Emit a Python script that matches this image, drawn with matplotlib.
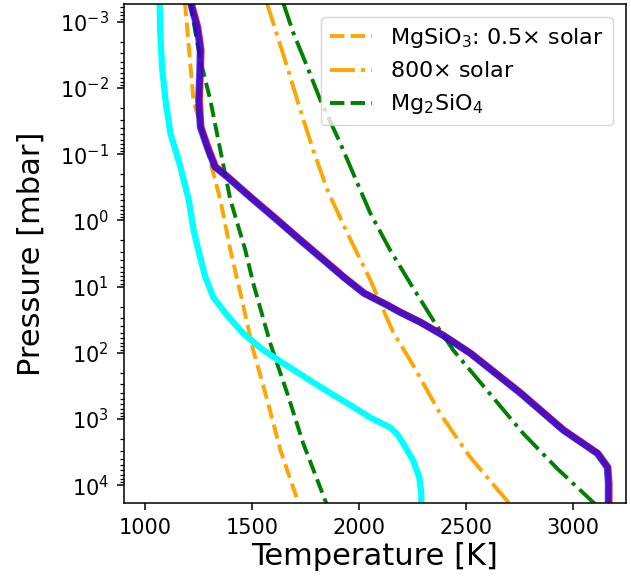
import numpy as np
import matplotlib
matplotlib.use("Agg")
import matplotlib.pyplot as plt
from matplotlib.ticker import NullFormatter, FixedLocator, LogFormatterSciNotation

# Cyan profile (log10 P [mbar], T [K])
cyan_logp = [-3.27, -2.83, -2.32, -1.82, -1.32, -0.81, -0.31, 0.15, 0.45, 0.86, 1.16, 1.42, 1.71, 1.96,
             2.16, 2.42, 2.61, 2.79, 2.98, 3.13, 3.23, 3.37, 3.63, 3.88, 4.13, 4.27]
cyan_t = [1067, 1070, 1078, 1094, 1117, 1164, 1203, 1226, 1248, 1281, 1318, 1379, 1459, 1552,
          1646, 1772, 1866, 1959, 2053, 2146, 2179, 2207, 2254, 2282, 2292, 2292]

# Main (red/blue) profile
prof_logp = [-3.29, -2.92, -2.58, -2.23, -1.82, -1.41, -1.11, -0.81, -0.66, -0.35, -0.05, 0.30, 0.60,
             0.86, 1.10, 1.28, 1.39, 1.54, 1.74, 2.01, 2.61, 3.17, 3.52, 3.73, 3.97, 4.27]
prof_t = [1211, 1242, 1257, 1254, 1249, 1257, 1289, 1325, 1382, 1491, 1600, 1725, 1834,
          1928, 2022, 2131, 2193, 2287, 2394, 2521, 2755, 2956, 3115, 3162, 3167, 3167]

# Condensation curves
mgsio3_low_logp = [-3.30, -1.82, -1.06, -0.31, 0.45, 1.10, 1.96, 2.72, 3.47, 4.30]
mgsio3_low_t = [1185, 1225, 1290, 1351, 1398, 1445, 1505, 1571, 1632, 1720]

mgsio3_high_logp = [-3.30, -2.98, -2.32, -1.67, -1.06, -0.46, 0.19, 0.90, 1.69, 2.19, 2.92, 3.58, 4.30]
mgsio3_high_t = [1567, 1599, 1664, 1725, 1786, 1852, 1945, 2053, 2160, 2254, 2380, 2521, 2710]

mg2sio4_low_logp = [-3.30, -2.43, -1.82, -1.06, -0.31, 0.45, 0.95, 1.86, 2.61, 3.37, 4.30]
mg2sio4_low_t = [1209, 1257, 1304, 1351, 1398, 1468, 1505, 1585, 1664, 1739, 1850]

mg2sio4_high_logp = [-3.30, -2.83, -2.32, -1.82, -1.17, -0.46, -0.11, 0.45, 0.95, 1.51, 1.96, 2.57, 3.22, 3.75, 4.30]
mg2sio4_high_t = [1644, 1693, 1758, 1819, 1912, 2006, 2053, 2146, 2240, 2348, 2441, 2600, 2769, 2928, 3110]

labels = ["MgSiO$_3$: 0.5$\\times$ solar", "800$\\times$ solar", "Mg$_2$SiO$_4$"]
x_ticks = [1000, 1500, 2000, 2500, 3000]
y_tick_exps = [-3, -2, -1, 0, 1, 2, 3, 4]

fig = plt.figure(figsize=(6.31, 5.79), dpi=100)
ax = fig.add_axes([124/631, 1-503/579, (626-124)/631, (503-4)/579])

p = lambda l: 10**np.array(l, dtype=float)

ax.plot(mgsio3_low_t, p(mgsio3_low_logp), color='orange', ls='--', lw=2.8, label=labels[0])
ax.plot(mgsio3_high_t, p(mgsio3_high_logp), color='orange', ls='-.', lw=2.8, label=labels[1])
ax.plot(mg2sio4_low_t, p(mg2sio4_low_logp), color='green', ls='--', lw=2.8, label=labels[2])
ax.plot(mg2sio4_high_t, p(mg2sio4_high_logp), color='green', ls='-.', lw=2.8)

ax.plot(cyan_t, p(cyan_logp), color='cyan', lw=4.5, solid_joinstyle='round')
ax.plot(np.array(prof_t) + 4, p(prof_logp), color='red', lw=5, alpha=0.8, solid_joinstyle='round')
ax.plot(prof_t, p(prof_logp), color='blue', lw=5, alpha=0.7, solid_joinstyle='round')

ax.set_yscale('log')
ax.set_xlim(900, 3250)
ax.set_ylim(10**4.27, 10**-3.27)
ax.set_xticks(x_ticks)
ax.yaxis.set_major_locator(FixedLocator(p(y_tick_exps)))
ax.yaxis.set_major_formatter(LogFormatterSciNotation())
minor = [m * 10.0**e for e in range(-4, 5) for m in range(2, 10)]
minor = [v for v in minor if 10**-3.27 <= v <= 10**4.27]
ax.yaxis.set_minor_locator(FixedLocator(minor))
ax.yaxis.set_minor_formatter(NullFormatter())
ax.tick_params(which='major', labelsize=15, length=5, width=1.1, pad=6)
ax.tick_params(which='minor', length=2.8, width=0.9)
for s in ax.spines.values():
    s.set_linewidth(1.1)
ax.set_xlabel("Temperature [K]", fontsize=22, labelpad=3)
ax.set_ylabel("Pressure [mbar]", fontsize=22, labelpad=10)
ax.legend(loc='upper right', fontsize=16, handlelength=1.9, borderaxespad=0.6)

fig.savefig("out.png", dpi=100)
